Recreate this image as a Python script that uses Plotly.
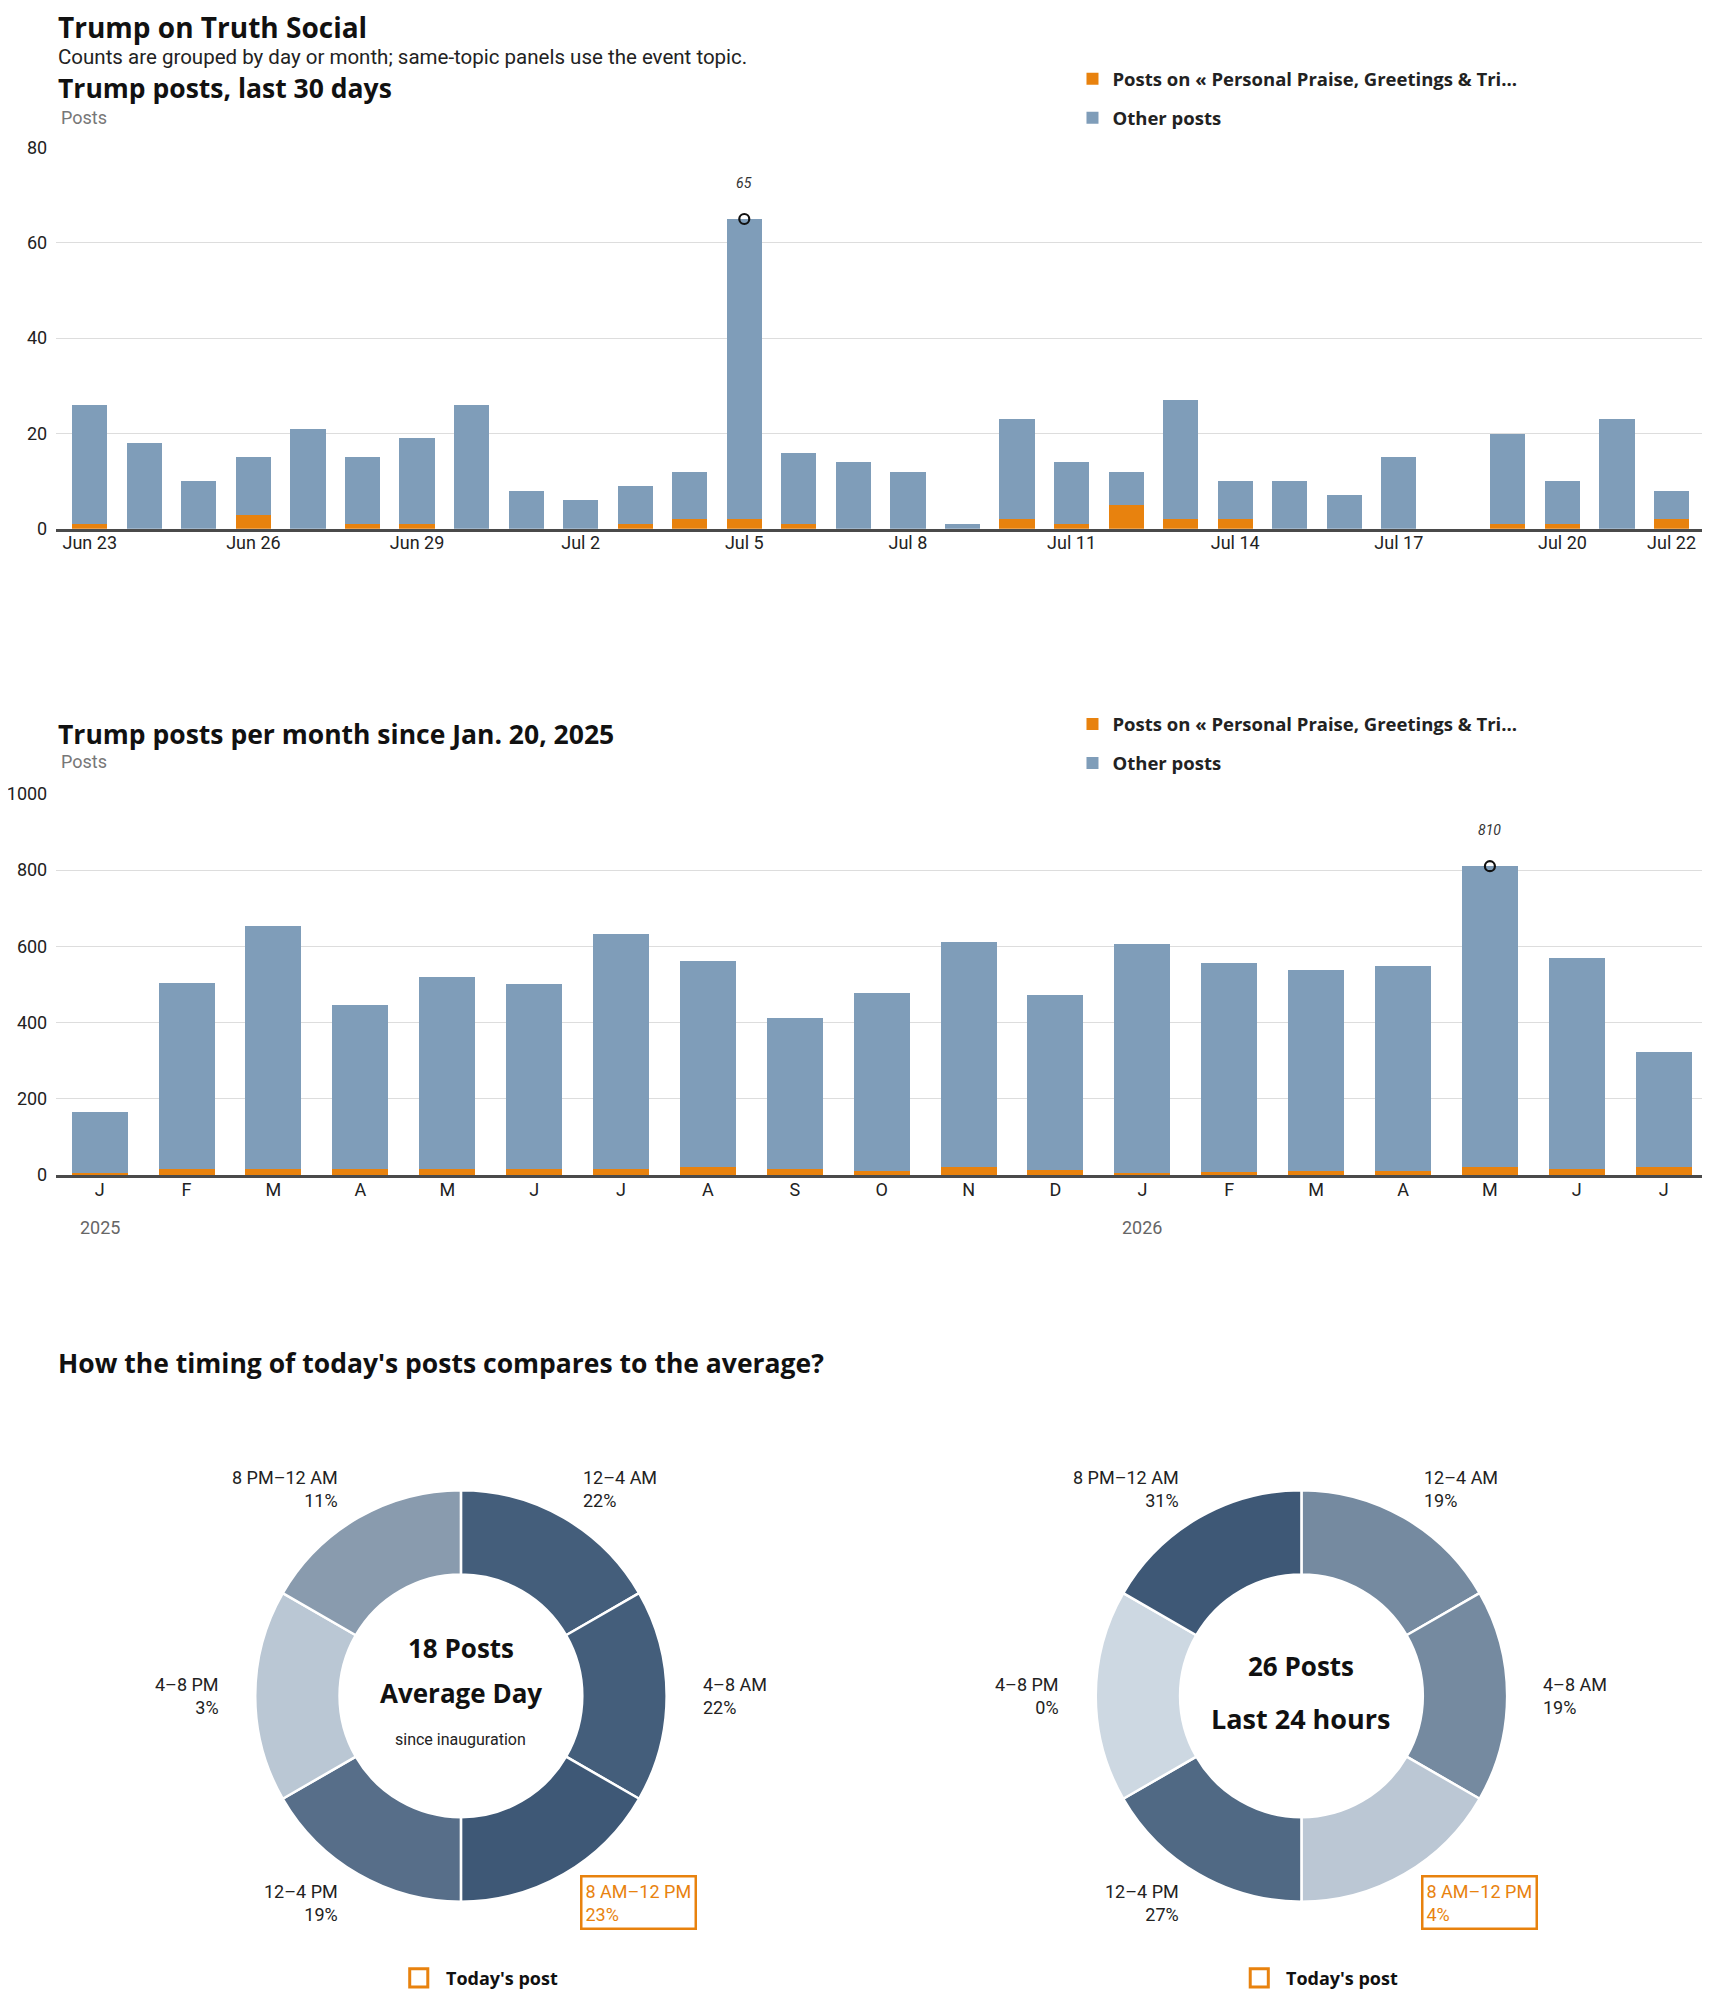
import math

import plotly.graph_objects as go
from plotly.colors import sample_colorscale

W, H = 1710, 1993
PAGE_PAD = 8  # body margin of the html page
FIG_W, FIG_H = W - PAGE_PAD, H - PAGE_PAD
KX, KY = 1.0042, 1.0035  # measured layout stretch vs. first estimates
FONT = "Roboto"
HEAD = "Open Sans"
ORANGE = "#e8820e"
BLUE = "#7f9db9"
INK = "#222222"

# ---- data: last 30 days ----
days = ["2026-06-23", "2026-06-24", "2026-06-25", "2026-06-26", "2026-06-27",
        "2026-06-28", "2026-06-29", "2026-06-30", "2026-07-01", "2026-07-02",
        "2026-07-03", "2026-07-04", "2026-07-05", "2026-07-06", "2026-07-07",
        "2026-07-08", "2026-07-09", "2026-07-10", "2026-07-11", "2026-07-12",
        "2026-07-13", "2026-07-14", "2026-07-15", "2026-07-16", "2026-07-17",
        "2026-07-18", "2026-07-19", "2026-07-20", "2026-07-21", "2026-07-22"]
day_total = [26, 18, 10, 15, 21, 15, 19, 26, 8, 6, 9, 12, 65, 16, 14,
             12, 1, 23, 14, 12, 27, 10, 10, 7, 15, 0, 20, 10, 23, 8]
day_topic = [1, 0, 0, 3, 0, 1, 1, 0, 0, 0, 1, 2, 2, 1, 0,
             0, 0, 2, 1, 5, 2, 2, 0, 0, 0, 0, 1, 1, 0, 2]
day_ticks = ["2026-06-23", "2026-06-26", "2026-06-29", "2026-07-02", "2026-07-05",
             "2026-07-08", "2026-07-11", "2026-07-14", "2026-07-17", "2026-07-20",
             "2026-07-22"]

# ---- data: posts per month ----
months = ["2025-01", "2025-02", "2025-03", "2025-04", "2025-05", "2025-06",
          "2025-07", "2025-08", "2025-09", "2025-10", "2025-11", "2025-12",
          "2026-01", "2026-02", "2026-03", "2026-04", "2026-05", "2026-06",
          "2026-07"]
month_labels = ["J", "F", "M", "A", "M", "J", "J", "A", "S", "O", "N", "D",
                "J", "F", "M", "A", "M", "J", "J"]
month_total = [166, 504, 654, 447, 520, 500, 631, 562, 412, 478, 612, 473,
               607, 557, 539, 549, 810, 568, 323]
month_topic = [5, 15, 15, 15, 15, 15, 15, 20, 15, 10, 20, 13,
               5, 7, 10, 10, 20, 17, 20]
year_starts = ["2025-01", "2026-01"]

# ---- data: timing donuts ----
slots = ["12–4 AM", "4–8 AM", "8 AM–12 PM", "12–4 PM", "4–8 PM", "8 PM–12 AM"]
slot_hours = [4, 4, 4, 4, 4, 4]
avg_share = [22, 22, 23, 19, 3, 11]
today_share = [19, 19, 4, 27, 0, 31]
today_slot = "8 AM–12 PM"
avg_posts = 18
today_posts = 26

topic_name = "Posts on « Personal Praise, Greetings & Tri..."


def px_x(px):
    return min(1.0, max(0.0, (px * KX - PAGE_PAD) / FIG_W))


def px_y(py):
    return min(1.0, max(0.0, 1 - (py * KY - PAGE_PAD) / FIG_H))


fig = go.Figure()

# bar charts
day_other = [t - o for t, o in zip(day_total, day_topic)]
month_other = [t - o for t, o in zip(month_total, month_topic)]

fig.add_trace(go.Bar(x=days, y=day_topic, marker_color=ORANGE, name=topic_name,
                     legendgroup="a", legend="legend", xaxis="x", yaxis="y"))
fig.add_trace(go.Bar(x=days, y=day_other, marker_color=BLUE, name="Other posts",
                     legendgroup="b", legend="legend", xaxis="x", yaxis="y"))
fig.add_trace(go.Bar(x=months, y=month_topic, marker_color=ORANGE, name=topic_name,
                     legendgroup="c", legend="legend2", xaxis="x2", yaxis="y2"))
fig.add_trace(go.Bar(x=months, y=month_other, marker_color=BLUE, name="Other posts",
                     legendgroup="d", legend="legend2", xaxis="x2", yaxis="y2"))

# peak markers
i_day = day_total.index(max(day_total))
i_mon = month_total.index(max(month_total))
fig.add_trace(go.Scatter(x=[days[i_day]], y=[day_total[i_day]], mode="markers",
                         marker=dict(symbol="circle-open", size=10, color="#111",
                                     line=dict(width=2.2)),
                         showlegend=False, xaxis="x", yaxis="y"))
fig.add_trace(go.Scatter(x=[months[i_mon]], y=[month_total[i_mon]], mode="markers",
                         marker=dict(symbol="circle-open", size=10, color="#111",
                                     line=dict(width=2.2)),
                         showlegend=False, xaxis="x2", yaxis="y2"))

annotations = []
shapes = []


def note(text, px, py, size, color="#111", weight="bold", family=HEAD,
         xanchor="left", **kw):
    annotations.append(dict(x=px_x(px), y=px_y(py), xref="paper", yref="paper",
                            xanchor=xanchor, yanchor="middle", showarrow=False,
                            text=text, font=dict(family=family, size=size,
                                                 color=color, weight=weight), **kw))


# donuts
CY = 1690
R = 205
LABEL_R = 238
donuts = [
    (459, avg_share, [(f"{avg_posts} Posts", 1642, 26, "bold"),
                      ("Average Day", 1687, 26, "bold"),
                      ("since inauguration", 1733, 16, "normal")]),
    (1296, today_share, [(f"{today_posts} Posts", 1660, 26, "bold"),
                         ("Last 24 hours", 1713, 27, "bold")]),
]
for cx, shares, centre in donuts:
    top = max(shares)
    colors = sample_colorscale([[0, "#cdd8e2"], [1, "#3e5876"]],
                               [s / top for s in shares])
    fig.add_trace(go.Pie(
        labels=slots, values=slot_hours, sort=False, direction="clockwise",
        rotation=0, hole=0.59, textinfo="none", showlegend=False,
        marker=dict(colors=colors, line=dict(color="white", width=2.5)),
        domain=dict(x=[px_x(cx - R), px_x(cx + R)], y=[px_y(CY + R), px_y(CY - R)])))
    n = len(slots)
    for i, (slot, share) in enumerate(zip(slots, shares)):
        ang = math.radians((i + 0.5) * 360 / n)
        lx = cx + LABEL_R * math.sin(ang)
        ly = CY - LABEL_R * math.cos(ang)
        right = math.sin(ang) > 0
        hl = slot == today_slot
        note(f"{slot}<br>{share}%", lx, ly, 18, ORANGE if hl else INK, "normal", FONT,
             xanchor="left" if right else "right", align="left" if right else "right",
             bordercolor=ORANGE if hl else None, borderwidth=2.5 if hl else 0,
             borderpad=3)
    for text, py, size, weight in centre:
        note(text, cx, py, size, "#111" if weight == "bold" else INK, weight,
             HEAD if weight == "bold" else FONT, xanchor="center")
    # "Today's post" key under the donut
    kx = cx - 42
    shapes.append(dict(type="rect", xref="paper", yref="paper",
                       x0=px_x(kx - 9), x1=px_x(kx + 9),
                       y0=px_y(1980), y1=px_y(1962),
                       line=dict(color=ORANGE, width=3), fillcolor="white"))
    note("Today's post", kx + 25, 1971, 18)

# headings
note("Trump on Truth Social", 56, 27, 28)
note("Counts are grouped by day or month; same-topic panels use the event topic.",
     56, 57, 20.5, INK, "normal", FONT)
note("Trump posts, last 30 days", 56, 88, 26.5)
note("Posts", 59, 117, 18, "#777", "normal", FONT)
note("Trump posts per month since Jan. 20, 2025", 56, 731, 26.5)
note("Posts", 59, 759, 18, "#777", "normal", FONT)
note("How the timing of today's posts compares to the average?", 56, 1358, 26.5)

# peak labels
annotations.append(dict(x=days[i_day], y=day_total[i_day], xref="x", yref="y",
                        yshift=36, showarrow=False, text=str(day_total[i_day]),
                        font=dict(family=FONT, size=14, color="#333", style="italic")))
annotations.append(dict(x=months[i_mon], y=month_total[i_mon], xref="x2", yref="y2",
                        yshift=36, showarrow=False, text=str(month_total[i_mon]),
                        font=dict(family=FONT, size=14, color="#333", style="italic")))

# year labels under month axis
for ys in year_starts:
    annotations.append(dict(x=ys, y=px_y(1223), xref="x2", yref="paper",
                            yanchor="middle", showarrow=False, text=ys[:4],
                            font=dict(family=FONT, size=18, color="#666")))

tick_font = dict(family=FONT, size=18, color=INK)
xdom = [px_x(56), px_x(1700)]
xcommon = dict(showgrid=False, showline=True, linecolor="#4a4a4a", linewidth=3,
               ticks="", tickfont=tick_font, zeroline=False, fixedrange=True,
               ticklabelstandoff=-4)
ycommon = dict(showgrid=True, gridcolor="#dddddd", gridwidth=1, zeroline=False,
               showline=False, ticks="", tickfont=tick_font, ticklabelstandoff=8)

legend_common = dict(xanchor="left", yanchor="top", bgcolor="rgba(0,0,0,0)",
                     font=dict(family=HEAD, size=18.5, color=INK, weight="bold"),
                     traceorder="grouped", tracegroupgap=12, orientation="v")

fig.update_layout(
    width=FIG_W, height=FIG_H, template="none",
    margin=dict(l=0, r=0, t=0, b=0, autoexpand=False),
    paper_bgcolor="white", plot_bgcolor="white",
    barmode="stack", bargap=0.355,
    font=dict(family=FONT, color=INK),
    xaxis=dict(xcommon, domain=xdom, anchor="y", type="date",
               range=["2026-06-22 09:15", "2026-07-22 15:40"],
               tickvals=day_ticks, tickformat="%b %-d"),
    yaxis=dict(ycommon, domain=[px_y(527), px_y(147)], anchor="x",
               range=[0, 80], tickvals=[0, 20, 40, 60, 80]),
    xaxis2=dict(xcommon, domain=xdom, anchor="y2", type="category",
                range=[-0.5, len(months) - 0.5],
                tickvals=months, ticktext=month_labels),
    yaxis2=dict(ycommon, domain=[px_y(1171), px_y(791)], anchor="x2",
                range=[0, 1000], tickvals=[0, 200, 400, 600, 800, 1000]),
    legend=dict(legend_common, x=px_x(1068), y=px_y(60)),
    legend2=dict(legend_common, x=px_x(1068), y=px_y(703)),
    annotations=annotations,
    shapes=shapes,
    showlegend=True,
)

fig.write_html("out.html")
